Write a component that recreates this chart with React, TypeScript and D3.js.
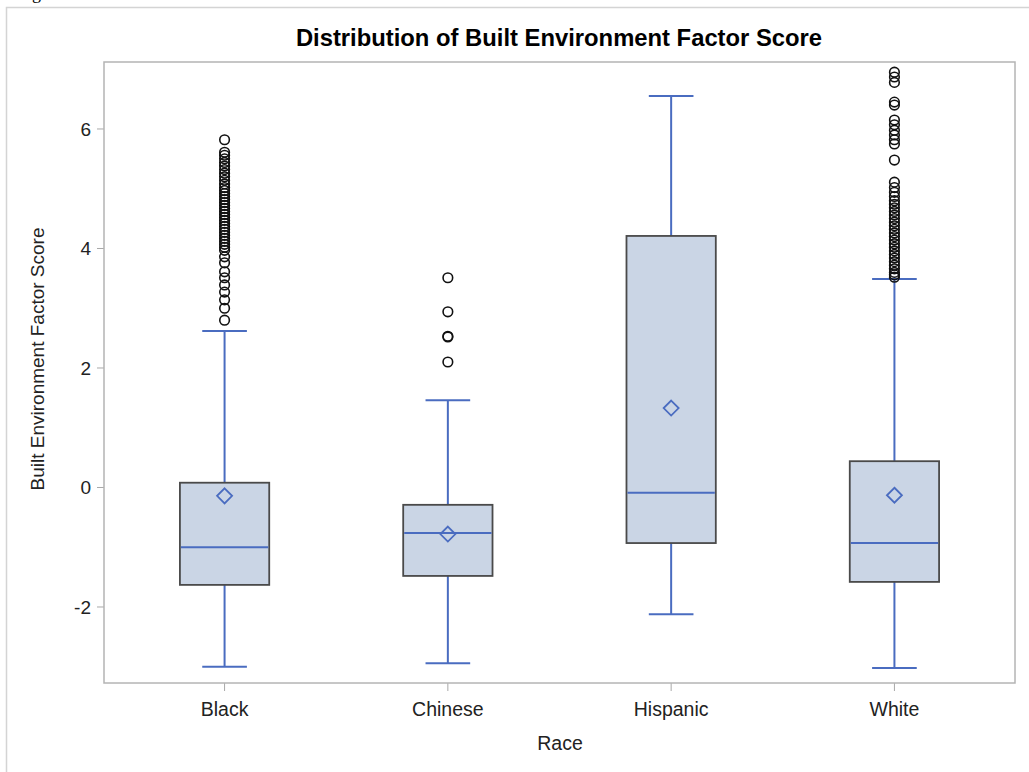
import React, { useEffect, useRef } from 'react';
import * as d3 from 'd3';

// box statistics
const categories = ['Black', 'Chinese', 'Hispanic', 'White'];
const q1Values = [-1.63, -1.48, -0.93, -1.58];
const medianValues = [-1.0, -0.76, -0.09, -0.93];
const q3Values = [0.08, -0.29, 4.21, 0.44];
const meanValues = [-0.14, -0.78, 1.33, -0.13];
const whiskerLow = [-3.0, -2.94, -2.12, -3.02];
const whiskerHigh = [2.62, 1.46, 6.55, 3.49];

const outliersBlack = [
  2.8, 3.0, 3.14, 3.27, 3.39, 3.51, 3.61, 3.76, 3.86, 3.97,
  4.02, 4.07, 4.12, 4.17, 4.22, 4.27, 4.32, 4.37, 4.42, 4.47, 4.52, 4.57,
  4.62, 4.67, 4.72, 4.77, 4.82, 4.87, 4.92, 4.97, 5.02, 5.08, 5.14, 5.2,
  5.26, 5.32, 5.38, 5.44, 5.5, 5.56, 5.61, 5.82
];
const outliersChinese = [2.1, 2.52, 2.53, 2.94, 3.51];
const outliersHispanic: number[] = [];
const outliersWhite = [
  3.52, 3.56, 3.6, 3.66, 3.72, 3.78, 3.84, 3.9, 3.96, 4.02, 4.08, 4.14, 4.2,
  4.26, 4.32, 4.38, 4.44, 4.5, 4.56, 4.62, 4.68, 4.74, 4.8, 4.87, 4.94,
  5.02, 5.11, 5.48, 5.75, 5.82, 5.9, 5.98, 6.07, 6.15, 6.4, 6.45, 6.78,
  6.87, 6.95
];
const outliers = [outliersBlack, outliersChinese, outliersHispanic, outliersWhite];

const yTicks = [-2, 0, 2, 4, 6];

const TITLE = 'Distribution of Built Environment Factor Score';
const X_LABEL = 'Race';
const Y_LABEL = 'Built Environment Factor Score';

function App() {
  const svgRef = useRef<SVGSVGElement>(null);

  const width = 1029;
  const height = 772;
  const plot = { left: 104, right: 1015, top: 62, bottom: 683 };

  useEffect(() => {
    if (!svgRef.current) return;
    const svg = d3.select(svgRef.current);
    svg.selectAll('*').remove();

    const font = 'Arial, "Liberation Sans", sans-serif';

    const x = d3.scalePoint<string>()
      .domain(categories)
      .range([plot.left, plot.right])
      .padding(0.54);

    const y = d3.scaleLinear()
      .domain([-3.272, 7.121])
      .range([plot.bottom, plot.top]);

    const step = x.step();
    const boxW = step * 0.4;
    const capW = step * 0.2;

    // outer frame + stray glyph cut by the page top
    svg.append('rect')
      .attr('x', 6.5).attr('y', 7.5)
      .attr('width', width).attr('height', height)
      .attr('fill', 'none').attr('stroke', '#d4d4d4').attr('stroke-width', 1.5);
    svg.append('text')
      .attr('x', 32).attr('y', -1)
      .attr('font-family', 'serif').attr('font-size', 18)
      .text('g');

    // title
    svg.append('text')
      .attr('x', 559)
      .attr('y', 46)
      .attr('text-anchor', 'middle')
      .attr('font-family', font)
      .attr('font-weight', 'bold')
      .attr('font-size', 23.8)
      .attr('fill', '#000')
      .text(TITLE);

    // y axis ticks
    const yAxis = svg.append('g');
    yAxis.selectAll('line')
      .data(yTicks)
      .join('line')
      .attr('x1', plot.left - 7).attr('x2', plot.left)
      .attr('y1', d => y(d)).attr('y2', d => y(d))
      .attr('stroke', '#a8a8a8');
    yAxis.selectAll('text')
      .data(yTicks)
      .join('text')
      .attr('x', plot.left - 13)
      .attr('y', d => y(d))
      .attr('dy', '0.36em')
      .attr('text-anchor', 'end')
      .attr('font-family', font)
      .attr('font-size', 19)
      .attr('fill', '#222')
      .text(d => String(d));

    // x axis ticks
    const xAxis = svg.append('g');
    xAxis.selectAll('line')
      .data(categories)
      .join('line')
      .attr('x1', d => x(d)!).attr('x2', d => x(d)!)
      .attr('y1', plot.bottom).attr('y2', plot.bottom + 8)
      .attr('stroke', '#a8a8a8');
    xAxis.selectAll('text')
      .data(categories)
      .join('text')
      .attr('x', d => x(d)!)
      .attr('y', 716)
      .attr('text-anchor', 'middle')
      .attr('font-family', font)
      .attr('font-size', 19.5)
      .attr('fill', '#222')
      .text(d => d);

    // axis labels
    svg.append('text')
      .attr('x', 560)
      .attr('y', 750)
      .attr('text-anchor', 'middle')
      .attr('font-family', font)
      .attr('font-size', 19.5)
      .attr('fill', '#222')
      .text(X_LABEL);
    svg.append('text')
      .attr('transform', `translate(44, 359) rotate(-90)`)
      .attr('text-anchor', 'middle')
      .attr('font-family', font)
      .attr('font-size', 19)
      .attr('fill', '#222')
      .text(Y_LABEL);

    const blue = '#4a6cc0';
    const boxes = svg.append('g');

    categories.forEach((cat, i) => {
      const cx = x(cat)!;
      const g = boxes.append('g');

      // whiskers
      g.append('line')
        .attr('x1', cx).attr('x2', cx)
        .attr('y1', y(q3Values[i])).attr('y2', y(whiskerHigh[i]))
        .attr('stroke', blue).attr('stroke-width', 2);
      g.append('line')
        .attr('x1', cx).attr('x2', cx)
        .attr('y1', y(q1Values[i])).attr('y2', y(whiskerLow[i]))
        .attr('stroke', blue).attr('stroke-width', 2);
      [whiskerHigh[i], whiskerLow[i]].forEach(v => {
        g.append('line')
          .attr('x1', cx - capW / 2).attr('x2', cx + capW / 2)
          .attr('y1', y(v)).attr('y2', y(v))
          .attr('stroke', blue).attr('stroke-width', 2);
      });

      // box
      g.append('rect')
        .attr('x', cx - boxW / 2)
        .attr('y', y(q3Values[i]))
        .attr('width', boxW)
        .attr('height', y(q1Values[i]) - y(q3Values[i]))
        .attr('fill', '#cad5e5')
        .attr('stroke', '#4a4a4a')
        .attr('stroke-width', 1.8);

      // median
      g.append('line')
        .attr('x1', cx - boxW / 2 + 1).attr('x2', cx + boxW / 2 - 1)
        .attr('y1', y(medianValues[i])).attr('y2', y(medianValues[i]))
        .attr('stroke', blue).attr('stroke-width', 2);

      // mean diamond
      const my = y(meanValues[i]);
      const r = 7.5;
      g.append('path')
        .attr('d', `M${cx},${my - r}L${cx + r},${my}L${cx},${my + r}L${cx - r},${my}Z`)
        .attr('fill', 'none')
        .attr('stroke', blue)
        .attr('stroke-width', 1.8);

      // outliers
      g.selectAll('circle')
        .data(outliers[i])
        .join('circle')
        .attr('cx', cx)
        .attr('cy', d => y(d))
        .attr('r', 4.8)
        .attr('fill', 'none')
        .attr('stroke', '#111')
        .attr('stroke-width', 1.6);
    });

    // plot frame
    svg.append('rect')
      .attr('x', plot.left).attr('y', plot.top)
      .attr('width', plot.right - plot.left)
      .attr('height', plot.bottom - plot.top)
      .attr('fill', 'none')
      .attr('stroke', '#b4b4b4')
      .attr('stroke-width', 1.5);
  });

  return (
    <svg
      ref={svgRef}
      width={width}
      height={height}
      style={{ position: 'absolute', left: 0, top: 0, background: '#fff' }}
    />
  );
}

export default App;
